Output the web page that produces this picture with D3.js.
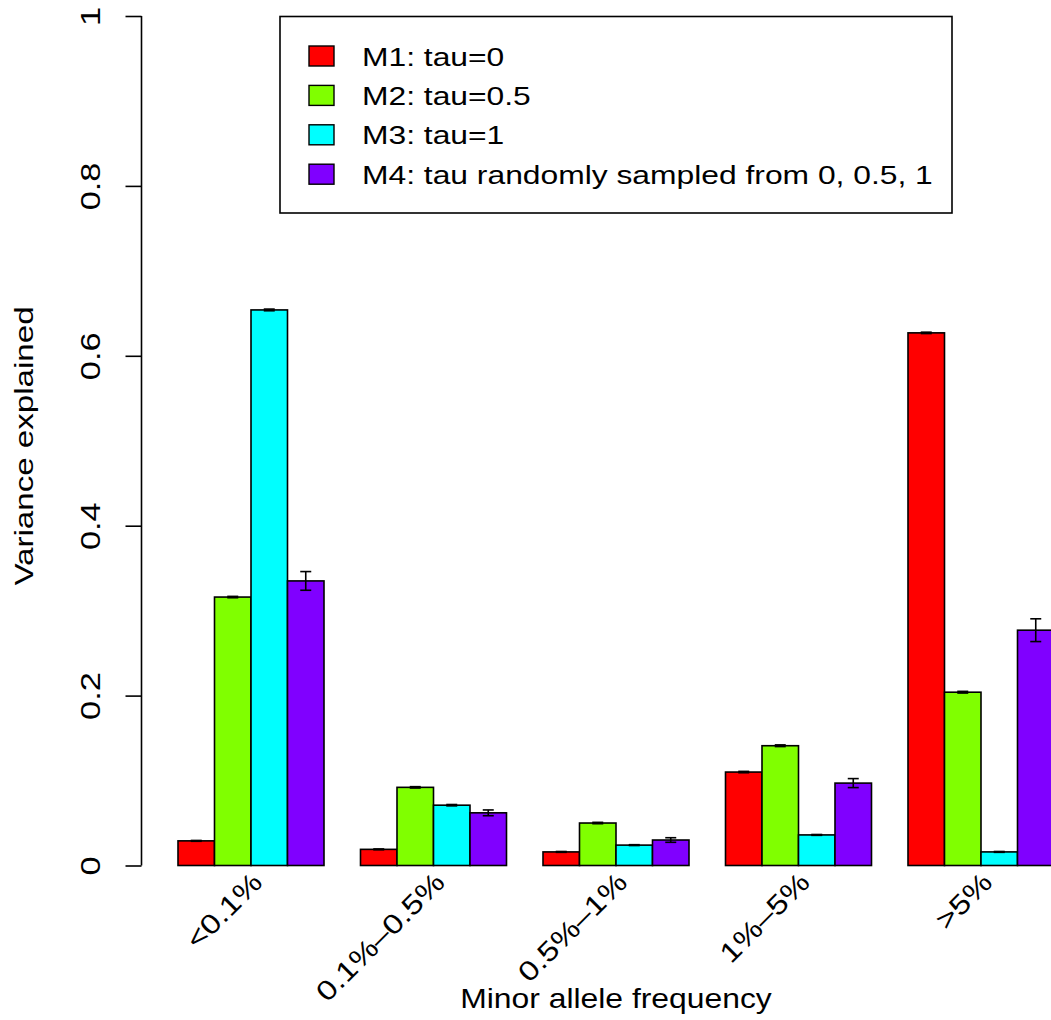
<!DOCTYPE html>
<html>
<head>
<meta charset="utf-8">
<script src="https://cdn.jsdelivr.net/npm/d3@7"></script>
<style>
  html, body { margin: 0; padding: 0; background: #fff; }
  svg { display: block; }
  text { font-family: "Liberation Sans", Arial, Helvetica, sans-serif; fill: #000; }
</style>
</head>
<body>
<svg id="chart" width="1051" height="1020"></svg>
<script>
// ---- data ----
const categories = ["<0.1%", "0.1%\u20130.5%", "0.5%\u20131%", "1%\u20135%", ">5%"];
const seriesNames = ["M1: tau=0", "M2: tau=0.5", "M3: tau=1", "M4: tau randomly sampled from 0, 0.5, 1"];
const seriesColors = ["#FF0000", "#80FF00", "#00FFFF", "#8000FF"];
const m1Values = [0.029, 0.019, 0.016, 0.110, 0.627];
const m2Values = [0.316, 0.092, 0.050, 0.141, 0.204];
const m3Values = [0.654, 0.071, 0.024, 0.036, 0.016];
const m4Values = [0.335, 0.062, 0.030, 0.097, 0.277];
const m1Errors = [0.0005, 0.0005, 0.0005, 0.0008, 0.0008];
const m2Errors = [0.0008, 0.0008, 0.0008, 0.0010, 0.0010];
const m3Errors = [0.0010, 0.0008, 0.0005, 0.0005, 0.0005];
const m4Errors = [0.011, 0.0034, 0.0027, 0.0053, 0.0134];
const yTicks = [0, 0.2, 0.4, 0.6, 0.8, 1];
const yTickLabels = ["0", "0.2", "0.4", "0.6", "0.8", "1"];

const values = [m1Values, m2Values, m3Values, m4Values];
const errors = [m1Errors, m2Errors, m3Errors, m4Errors];

// ---- layout ----
const svg = d3.select("#chart");
const FS = 25.5, SX = 1.25;

const x0 = d3.scaleBand().domain(categories)
  .range([141.5, 141.5 + 25 * 36.5])
  .paddingInner(0.2).paddingOuter(0.1).align(1);
const x1 = d3.scaleBand().domain(d3.range(seriesNames.length))
  .range([0, x0.bandwidth()]).padding(0);
const y = d3.scaleLinear().domain([0, 1]).range([865.5, 16]);

// bars
const data = [];
categories.forEach((c, ci) => {
  values.forEach((arr, si) => {
    data.push({ cat: c, s: si, v: arr[ci], e: errors[si][ci] });
  });
});

const g = svg.append("g");
g.selectAll("rect.bar").data(data).join("rect")
  .attr("class", "bar")
  .attr("x", d => x0(d.cat) + x1(d.s))
  .attr("y", d => y(d.v))
  .attr("width", x1.bandwidth())
  .attr("height", d => y(0) - y(d.v))
  .attr("fill", d => seriesColors[d.s])
  .attr("stroke", "#000")
  .attr("stroke-width", 1.6);

// error bars
const eb = g.selectAll("g.err").data(data).join("g").attr("class", "err")
  .attr("stroke", "#000").attr("stroke-width", 1.6);
eb.append("line")
  .attr("x1", d => x0(d.cat) + x1(d.s) + x1.bandwidth() / 2)
  .attr("x2", d => x0(d.cat) + x1(d.s) + x1.bandwidth() / 2)
  .attr("y1", d => y(d.v + d.e)).attr("y2", d => y(d.v - d.e));
eb.append("line")
  .attr("x1", d => x0(d.cat) + x1(d.s) + x1.bandwidth() / 2 - 5.5)
  .attr("x2", d => x0(d.cat) + x1(d.s) + x1.bandwidth() / 2 + 5.5)
  .attr("y1", d => y(d.v + d.e)).attr("y2", d => y(d.v + d.e));
eb.append("line")
  .attr("x1", d => x0(d.cat) + x1(d.s) + x1.bandwidth() / 2 - 5.5)
  .attr("x2", d => x0(d.cat) + x1(d.s) + x1.bandwidth() / 2 + 5.5)
  .attr("y1", d => y(d.v - d.e)).attr("y2", d => y(d.v - d.e));

// y axis
const yAxis = d3.axisLeft(y).tickValues(yTicks).tickSize(16)
  .tickFormat((d, i) => yTickLabels[i]);
const ya = svg.append("g").attr("transform", "translate(141.5,0)").call(yAxis);
ya.select(".domain").attr("stroke", "#000").attr("stroke-width", 1.6)
  .attr("d", `M0,${y(0)}V${y(1)}`);
ya.selectAll(".tick line").attr("stroke", "#000").attr("stroke-width", 1.6);
ya.selectAll(".tick text")
  .attr("x", null).attr("dy", null)
  .attr("text-anchor", "middle")
  .attr("font-size", FS + 2)
  .attr("font-family", "Liberation Sans, Arial, sans-serif")
  .attr("transform", "translate(-41.5,0) rotate(-90) scale(" + SX + ",1)");

// x category labels
svg.append("g").selectAll("text").data(categories).join("text")
  .attr("text-anchor", "end")
  .attr("font-size", 27.5)
  .attr("transform", d => `translate(${x0(d) + x0.bandwidth() / 2 + 13},884) rotate(-45) scale(1.2,1)`)
  .text(d => d);

// axis titles
svg.append("text")
  .attr("text-anchor", "middle").attr("font-size", 27)
  .attr("transform", `translate(616,1008) scale(1.18,1)`)
  .text("Minor allele frequency");
svg.append("text")
  .attr("text-anchor", "middle").attr("font-size", FS + 1)
  .attr("transform", `translate(33,446) rotate(-90) scale(${SX},1)`)
  .text("Variance explained");

// legend
const lg = svg.append("g");
lg.append("rect").attr("x", 280).attr("y", 16.5).attr("width", 672).attr("height", 196.5)
  .attr("fill", "#fff").attr("stroke", "#000").attr("stroke-width", 1.6);
const rows = lg.selectAll("g.row").data(seriesNames).join("g").attr("class", "row")
  .attr("transform", (d, i) => `translate(0,${56 + i * 39.4})`);
rows.append("rect").attr("x", 309).attr("y", -10).attr("width", 25).attr("height", 20)
  .attr("fill", (d, i) => seriesColors[i]).attr("stroke", "#000").attr("stroke-width", 1.4);
rows.append("text").attr("font-size", 26.5)
  .attr("transform", `translate(362,9.5) scale(1.2,1)`)
  .text(d => d);
</script>
</body>
</html>
